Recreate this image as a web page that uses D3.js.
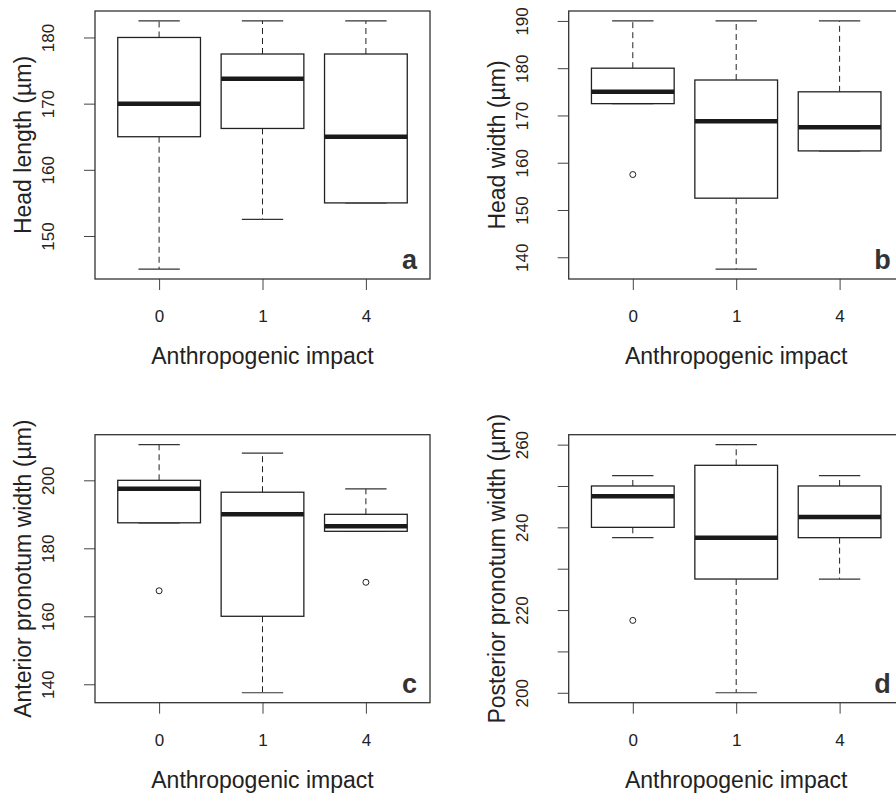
<!DOCTYPE html>
<html>
<head>
<meta charset="utf-8">
<script src="https://cdn.jsdelivr.net/npm/d3@7"></script>
<style>
  body { margin: 0; background: #fff; overflow: hidden; }
  svg { display: block; font-family: "Liberation Sans", Arial, sans-serif; }
</style>
</head>
<body>
<div id="chart"></div>
<script>
// x groups (anthropogenic impact level)
const groups = ["0", "1", "4"];

// box stats per group: [lower whisker, Q1, median, Q3, upper whisker]
const headLengthStats = [[145, 165, 170, 180, 182.5], [152.5, 166.25, 173.75, 177.5, 182.5], [155, 155, 165, 177.5, 182.5]];
const headLengthOutliers = [[], [], []];
const headLengthTicks = [150, 160, 170, 180];

const headWidthStats = [[172.5, 172.5, 175, 180, 190], [137.5, 152.5, 168.75, 177.5, 190], [162.5, 162.5, 167.5, 175, 190]];
const headWidthOutliers = [[157.5], [], []];
const headWidthTicks = [140, 150, 160, 170, 180, 190];

const antPronotumStats = [[187.5, 187.5, 197.5, 200, 210.5], [137.5, 160, 190, 196.5, 208], [185, 185, 186.5, 190, 197.5]];
const antPronotumOutliers = [[167.5], [], [170]];
const antPronotumTicks = [140, 160, 180, 200];

const postPronotumStats = [[237.5, 240, 247.5, 250, 252.5], [200, 227.5, 237.5, 255, 260], [227.5, 237.5, 242.5, 250, 252.5]];
const postPronotumOutliers = [[217.5], [], []];
const postPronotumTicks = [200, 210, 220, 230, 240, 250, 260];
const postPronotumLabels = [200, 220, 240, 260];

const W = 896, H = 795;
const plotW = 335, plotH = 268;

const panels = [
    { letter: "a", title: "Head length (µm)", stats: headLengthStats, outliers: headLengthOutliers, ticks: headLengthTicks, labels: headLengthTicks, left: 95, top: 11 },
    { letter: "b", title: "Head width (µm)", stats: headWidthStats, outliers: headWidthOutliers, ticks: headWidthTicks, labels: headWidthTicks, left: 568.7, top: 11 },
    { letter: "c", title: "Anterior pronotum width (µm)", stats: antPronotumStats, outliers: antPronotumOutliers, ticks: antPronotumTicks, labels: antPronotumTicks, left: 95, top: 434.7 },
    { letter: "d", title: "Posterior pronotum width (µm)", stats: postPronotumStats, outliers: postPronotumOutliers, ticks: postPronotumTicks, labels: postPronotumLabels, left: 568.7, top: 434.7 }
];

const svg = d3.select("#chart").append("svg")
    .attr("width", W)
    .attr("height", H);

const ink = "#222";

panels.forEach(p => {
    const g = svg.append("g").attr("transform", `translate(${p.left},${p.top})`);

    // R style: data range padded by 4% each side
    const all = p.stats.flat().concat(p.outliers.flat());
    const lo = d3.min(all), hi = d3.max(all), pad = (hi - lo) * 0.04;
    const y = d3.scaleLinear().domain([lo - pad, hi + pad]).range([plotH, 0]);
    const x = d3.scaleLinear().domain([0.38, 3.62]).range([0, plotW]);

    // y axis
    const yAxis = g.append("g")
        .call(d3.axisLeft(y).tickValues(p.ticks).tickSize(11)
            .tickFormat(d => p.labels.includes(d) ? d : ""));
    yAxis.select(".domain").remove();
    yAxis.selectAll("line").attr("stroke", "#444");
    yAxis.selectAll("text")
        .attr("x", 0).attr("y", 0).attr("dy", 0)
        .attr("transform", "translate(-41,0) rotate(-90)")
        .attr("text-anchor", "middle")
        .attr("font-size", 17)
        .attr("font-family", "Liberation Sans, Arial, sans-serif")
        .attr("fill", ink);

    // x axis
    const xAxis = g.append("g")
        .attr("transform", `translate(0,${plotH})`)
        .call(d3.axisBottom(x).tickValues([1, 2, 3]).tickSize(11)
            .tickFormat((d, i) => groups[i]));
    xAxis.select(".domain").remove();
    xAxis.selectAll("line").attr("stroke", "#444");
    xAxis.selectAll("text")
        .attr("y", 43).attr("dy", 0)
        .attr("font-size", 17)
        .attr("font-family", "Liberation Sans, Arial, sans-serif")
        .attr("fill", ink);

    // boxes
    p.stats.forEach((s, i) => {
        const c = i + 1;
        const [wLo, q1, med, q3, wHi] = s;
        const b = g.append("g");

        // whiskers
        b.append("line")
            .attr("x1", x(c)).attr("x2", x(c))
            .attr("y1", y(q3)).attr("y2", y(wHi))
            .attr("stroke", ink).attr("stroke-width", 1)
            .attr("stroke-dasharray", "6,4");
        b.append("line")
            .attr("x1", x(c)).attr("x2", x(c))
            .attr("y1", y(q1)).attr("y2", y(wLo))
            .attr("stroke", ink).attr("stroke-width", 1)
            .attr("stroke-dasharray", "6,4");

        // staples
        [wLo, wHi].forEach(v => {
            b.append("line")
                .attr("x1", x(c - 0.2)).attr("x2", x(c + 0.2))
                .attr("y1", y(v)).attr("y2", y(v))
                .attr("stroke", "#333").attr("stroke-width", 1.2);
        });

        // box
        b.append("rect")
            .attr("x", x(c - 0.4))
            .attr("y", y(q3))
            .attr("width", x(c + 0.4) - x(c - 0.4))
            .attr("height", y(q1) - y(q3))
            .attr("fill", "#fff")
            .attr("stroke", ink)
            .attr("stroke-width", 1.3);

        // median
        b.append("line")
            .attr("x1", x(c - 0.4)).attr("x2", x(c + 0.4))
            .attr("y1", y(med)).attr("y2", y(med))
            .attr("stroke", "#1a1a1a").attr("stroke-width", 4.5);

        // outliers
        b.selectAll("circle")
            .data(p.outliers[i])
            .enter().append("circle")
            .attr("cx", x(c))
            .attr("cy", d => y(d))
            .attr("r", 3)
            .attr("fill", "none")
            .attr("stroke", ink)
            .attr("stroke-width", 1);
    });

    // plot frame
    g.append("rect")
        .attr("width", plotW).attr("height", plotH)
        .attr("fill", "none")
        .attr("stroke", "#333")
        .attr("stroke-width", 1.3);

    // axis titles
    g.append("text")
        .attr("x", plotW / 2)
        .attr("y", plotH + 85)
        .attr("text-anchor", "middle")
        .attr("font-size", 23)
        .attr("fill", ink)
        .text("Anthropogenic impact");

    g.append("text")
        .attr("transform", `translate(-64,${plotH / 2}) rotate(-90)`)
        .attr("text-anchor", "middle")
        .attr("font-size", 23)
        .attr("fill", ink)
        .text(p.title);

    // panel letter
    g.append("text")
        .attr("x", plotW - 13)
        .attr("y", plotH - 10)
        .attr("text-anchor", "end")
        .attr("font-size", 27)
        .attr("font-weight", "bold")
        .attr("fill", "#333")
        .text(p.letter);
});
</script>
</body>
</html>
